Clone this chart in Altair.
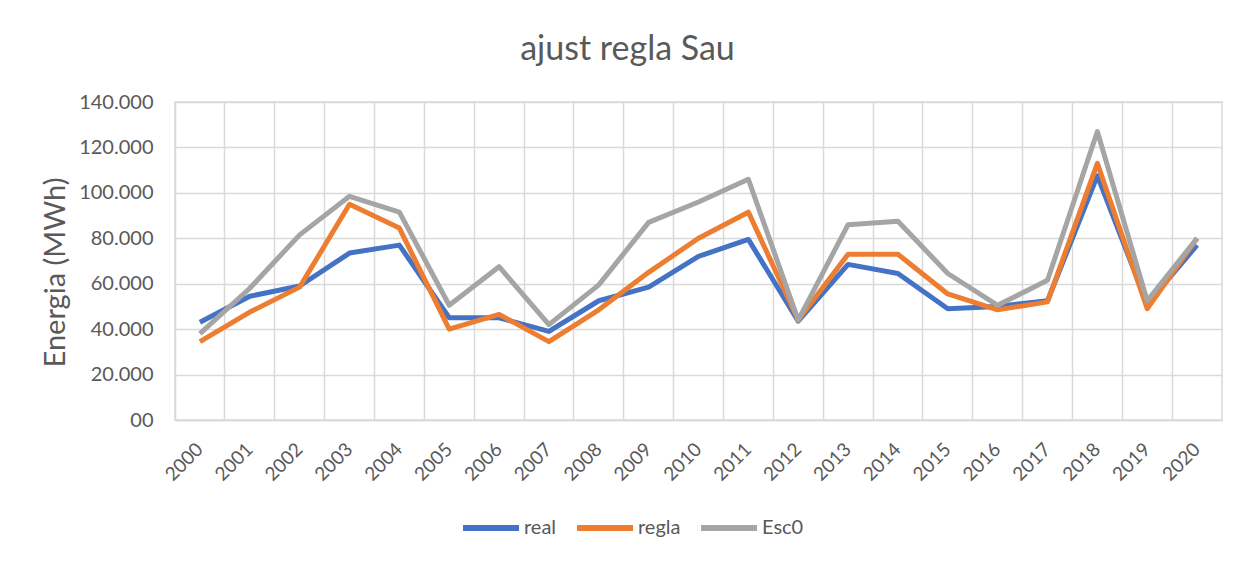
import altair as alt
import pandas as pd

years = [str(y) for y in range(2000, 2021)]
real = [43000, 54500, 59000, 73500, 77000, 45000, 45000, 39000, 52500, 58500, 72000,
        79500, 43500, 68500, 64500, 49000, 50000, 52500, 107500, 51000, 77000]
regla = [34500, 47500, 58500, 95000, 84500, 40000, 46500, 34500, 48500, 65000, 80000,
         91500, 44000, 73000, 73000, 55500, 48500, 52000, 113000, 49000, 80000]
esc0 = [38000, 58000, 81500, 98500, 91500, 50500, 67500, 42000, 59500, 87000, 96000,
        106000, 44000, 86000, 87500, 64500, 50500, 61500, 127000, 52500, 80000]
series = ["real", "regla", "Esc0"]
colors = ["#4472C4", "#ED7D31", "#A5A5A5"]
y_ticks = [0, 20000, 40000, 60000, 80000, 100000, 120000, 140000]

rows = []
for name, vals in zip(series, [real, regla, esc0]):
    for yr, v in zip(years, vals):
        rows.append({"year": yr, "value": v, "serie": name})
df = pd.DataFrame(rows)

W, H = 1047, 318
FONT = "Lato"
TXT = "#595959"
GRID = "#D9D9D9"

chart = alt.Chart(df).mark_line(strokeWidth=5, strokeCap="butt", strokeJoin="round").encode(
    x=alt.X("year:O", sort=years,
            scale=alt.Scale(type="band", paddingInner=0, paddingOuter=0),
            axis=alt.Axis(title=None, labelAngle=-45, labelAlign="right", labelBaseline="middle",
                          labelFontSize=19, labelColor=TXT, labelFont=FONT,
                          bandPosition=0, labelOffset=0, labelPadding=26,
                          grid=True, gridColor=GRID, gridWidth=1.5,
                          ticks=False, domainColor=GRID, domainWidth=1.5)),
    y=alt.Y("value:Q", scale=alt.Scale(domain=[0, 140000], nice=False),
            axis=alt.Axis(title="Energia (MWh)", values=y_ticks,
                          labelExpr="datum.value == 0 ? '00' : replace(format(datum.value, ','), ',', '.')",
                          labelFontSize=20, labelColor=TXT, labelFont=FONT, labelPadding=22,
                          titleFontSize=29, titleColor=TXT, titleFont=FONT, titleFontWeight="normal",
                          titlePadding=8, titleY=170,
                          grid=True, gridColor=GRID, gridWidth=1.5,
                          ticks=False, domain=False)),
    color=alt.Color("serie:N", scale=alt.Scale(domain=series, range=colors),
                    legend=alt.Legend(title=None, orient="none", direction="horizontal",
                                      legendX=285, legendY=395,
                                      symbolType="stroke", symbolSize=3136, symbolStrokeWidth=6,
                                      labelFontSize=20, labelColor=TXT, labelFont=FONT,
                                      columnPadding=8, labelOffset=2)),
    order=alt.Order("year:O"),
).properties(
    width=W, height=H,
    title=alt.TitleParams("ajust regla Sau", fontSize=34, font=FONT, color=TXT,
                          fontWeight="normal", anchor="middle", dx=-71, offset=25),
    autosize=alt.AutoSizeParams(type="none"),
    padding={"left": 167, "top": 94, "right": 18, "bottom": 131},
).configure_view(stroke=GRID, strokeWidth=1.5)

chart.save("out.html", embed_options={"renderer": "svg", "actions": False})
